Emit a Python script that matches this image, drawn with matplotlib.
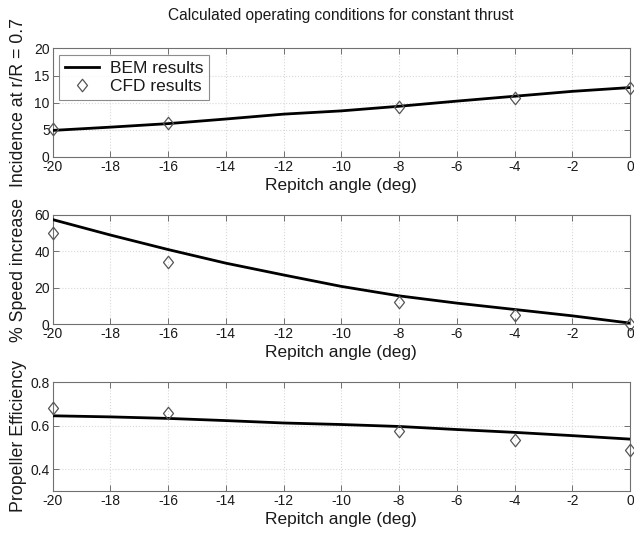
import matplotlib
matplotlib.use("Agg")
import matplotlib.pyplot as plt
from matplotlib.path import Path
import numpy as np

plt.rcParams['font.family'] = ['Liberation Sans', 'DejaVu Sans']

# ---- data ----
bem_x = [-20, -18, -16, -14, -12, -10, -8, -6, -4, -2, 0]
bem_incidence = [4.9, 5.5, 6.15, 7.0, 7.9, 8.5, 9.35, 10.3, 11.2, 12.1, 12.8]
bem_speed = [57.5, 49.0, 41.0, 33.5, 27.0, 20.7, 15.5, 11.5, 8.0, 4.5, 0.5]
bem_eff = [0.645, 0.640, 0.633, 0.623, 0.612, 0.605, 0.596, 0.582, 0.569, 0.554, 0.538]

cfd_x = [-20, -16, -8, -4, 0]
cfd_incidence = [5.2, 6.3, 9.2, 10.8, 12.8]
cfd_speed = [50.3, 34.4, 11.9, 5.1, 0.0]
cfd_eff = [0.682, 0.658, 0.577, 0.535, 0.489]

ylabels = ["Incidence at r/R = 0.7", "% Speed increase", "Propeller Efficiency"]
ylims = [(0, 20), (0, 60), (0.3, 0.8)]
yticks = [[0, 5, 10, 15, 20], [0, 20, 40, 60], [0.4, 0.6, 0.8]]
xticks = [-20, -18, -16, -14, -12, -10, -8, -6, -4, -2, 0]
title = "Calculated operating conditions for constant thrust"
xlabel = "Repitch angle (deg)"

W, H = 634, 534
fig = plt.figure(figsize=(W / 100, H / 100), dpi=100)

diamond = Path([(0, 1), (0.8, 0), (0, -1), (-0.8, 0), (0, 1)],
               [Path.MOVETO, Path.LINETO, Path.LINETO, Path.LINETO, Path.CLOSEPOLY])

boxes = [(52.5, 48.5, 630, 157), (52.5, 215, 630, 324), (52.5, 382, 630, 491)]
series = [(bem_incidence, cfd_incidence), (bem_speed, cfd_speed), (bem_eff, cfd_eff)]
spine_col = '#707070'
text_col = '#1a1a1a'

for i, ((l, t, r, b), (bem, cfd)) in enumerate(zip(boxes, series)):
    ax = fig.add_axes([l / W, 1 - b / H, (r - l) / W, (b - t) / H])
    ax.plot(bem_x, bem, color='black', lw=2.0, label='BEM results', zorder=3)
    ax.plot(cfd_x, cfd, linestyle='none', marker=diamond, markersize=9,
            markerfacecolor='none', markeredgecolor='#555555', markeredgewidth=0.9,
            label='CFD results', zorder=4, clip_on=False)
    ax.set_xlim(-20, 0)
    ax.set_ylim(*ylims[i])
    ax.set_xticks(xticks)
    ax.set_xticklabels([str(v) for v in xticks])
    ax.set_yticks(yticks[i])
    ax.set_yticklabels([('%g' % v) for v in yticks[i]])
    ax.grid(True, color='#d8d8d8', linestyle=':', linewidth=0.8)
    ax.set_axisbelow(True)
    ax.tick_params(direction='in', top=True, right=True, length=4, width=0.7,
                   color=spine_col, labelsize=10, labelcolor=text_col, pad=2)
    for s in ax.spines.values():
        s.set_color(spine_col)
        s.set_linewidth(0.8)
    ax.set_xlabel(xlabel, fontsize=12.5, color=text_col, labelpad=3)
    ax.set_ylabel(ylabels[i], fontsize=12.8, color=text_col)
    ax.yaxis.set_label_coords((27.5 - l) / (r - l), 0.5)
    if i == 0:
        leg = ax.legend(loc='upper left', fontsize=12.5, frameon=True, fancybox=False,
                        borderaxespad=0.4, handlelength=2.0, borderpad=0.3,
                        labelspacing=0.2, handletextpad=0.6)
        leg.get_frame().set_edgecolor(spine_col)
        leg.get_frame().set_linewidth(0.8)
        for txt in leg.get_texts():
            txt.set_color(text_col)

fig.text((52.5 + 630) / 2 / W, 1 - 15.5 / H, title, ha='center', va='center',
         fontsize=11.2, color=text_col)

fig.savefig('out.png', dpi=100)
